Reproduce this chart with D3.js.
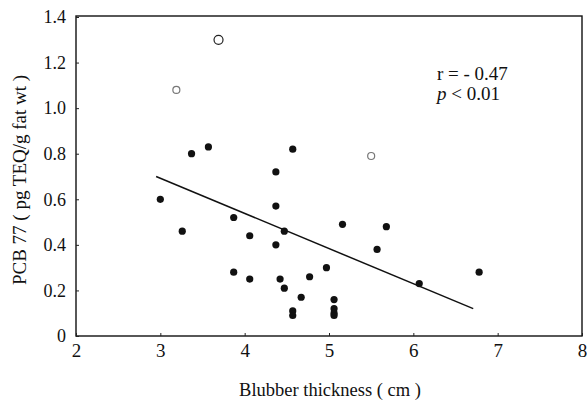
<!DOCTYPE html>
<html><head><meta charset="utf-8">
<script src="https://cdn.jsdelivr.net/npm/d3@7"></script>
<style>body{margin:0;background:#fff}svg{display:block}</style>
</head><body>
<svg id="c" width="587" height="400"></svg>
<script>
const xTicks = [2, 3, 4, 5, 6, 7, 8];
const yTicks = [0, 0.2, 0.4, 0.6, 0.8, 1.0, 1.2, 1.4];
const yTickLabels = ["0", "0.2", "0.4", "0.6", "0.8", "1.0", "1.2", "1.4"];
// filled points: blubber thickness (cm), PCB 77
const filledX = [3.0, 3.26, 3.37, 3.57, 3.87, 3.87, 4.06, 4.06, 4.37, 4.37, 4.37, 4.42, 4.47, 4.47, 4.57, 4.57, 4.57, 4.67, 4.77, 4.97, 5.06, 5.06, 5.06, 5.06, 5.16, 5.57, 5.68, 6.07, 6.78];
const filledY = [0.60, 0.46, 0.80, 0.83, 0.52, 0.28, 0.44, 0.25, 0.72, 0.57, 0.40, 0.25, 0.46, 0.21, 0.82, 0.11, 0.09, 0.17, 0.26, 0.30, 0.16, 0.12, 0.10, 0.09, 0.49, 0.38, 0.48, 0.23, 0.28];
// open points (outliers)
const openX = [3.19, 3.69, 5.50];
const openY = [1.08, 1.30, 0.79];
// regression line end points
const lineX = [2.95, 6.71];
const lineY = [0.70, 0.12];
const xTitle = "Blubber thickness ( cm )";
const yTitle = "PCB 77 ( pg TEQ/g fat wt )";

const svg = d3.select("#c");
const L = 76, R = 582, T = 17, B = 336;
const x = d3.scaleLinear().domain([2, 8]).range([L, R]);
const y = d3.scaleLinear().domain([0, 1.4]).range([B, T]);
const font = "'Liberation Serif', 'Times New Roman', serif";

// frame
svg.append("rect").attr("x", L).attr("y", T - 1).attr("width", R - L).attr("height", B - T + 1)
  .attr("fill", "none").attr("stroke", "#111").attr("stroke-width", 1.4);

const xAxis = svg.append("g").attr("transform", `translate(0,${B})`)
  .call(d3.axisBottom(x).tickValues(xTicks).tickSize(-3).tickPadding(8).tickFormat(d3.format("d")));
xAxis.select(".domain").remove();
xAxis.selectAll("line").attr("stroke", "#222");
xAxis.selectAll("text").attr("font-family", font).attr("font-size", 19).attr("fill", "#111");

const yAxis = svg.append("g").attr("transform", `translate(${L},0)`)
  .call(d3.axisLeft(y).tickValues(yTicks).tickSize(-3).tickPadding(10).tickFormat((d, i) => yTickLabels[i]));
yAxis.select(".domain").remove();
yAxis.selectAll("line").attr("stroke", "#222");
yAxis.selectAll("text").attr("font-family", font).attr("font-size", 18).attr("fill", "#111");

// regression line
svg.append("line")
  .attr("x1", x(lineX[0])).attr("y1", y(lineY[0]))
  .attr("x2", x(lineX[1])).attr("y2", y(lineY[1]))
  .attr("stroke", "#111").attr("stroke-width", 1.5);

// filled points
svg.append("g").selectAll("circle").data(filledX).join("circle")
  .attr("cx", (d) => x(d)).attr("cy", (d, i) => y(filledY[i])).attr("r", 3.6).attr("fill", "#111");

// open points
svg.append("g").selectAll("circle").data(openX).join("circle")
  .attr("cx", (d) => x(d)).attr("cy", (d, i) => y(openY[i]))
  .attr("r", (d, i) => i === 1 ? 4.5 : 3.5)
  .attr("fill", "none").attr("stroke", (d, i) => i === 1 ? "#222" : "#777").attr("stroke-width", 1.2);

// stats text
svg.append("text").attr("x", 437).attr("y", 80).attr("font-family", font).attr("font-size", 19).attr("fill", "#111")
  .text("r = - 0.47");
const pt = svg.append("text").attr("x", 437).attr("y", 100).attr("font-family", font).attr("font-size", 19).attr("fill", "#111");
pt.append("tspan").attr("font-style", "italic").text("p");
pt.append("tspan").text(" < 0.01");

// axis titles
svg.append("text").attr("x", (L + R) / 2 + 1).attr("y", 396).attr("text-anchor", "middle")
  .attr("font-family", font).attr("font-size", 18.5).attr("fill", "#111").text(xTitle);
svg.append("text").attr("transform", `translate(26,180) rotate(-90)`).attr("text-anchor", "middle")
  .attr("font-family", font).attr("font-size", 19).attr("fill", "#111").text(yTitle);
</script>
</body></html>
